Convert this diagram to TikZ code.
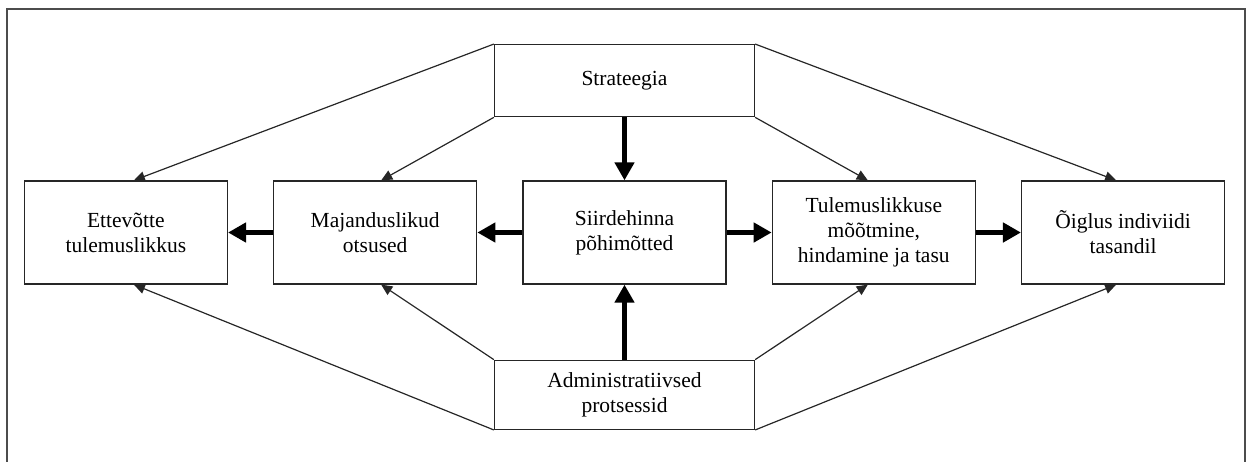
\documentclass[tikz,border=0pt]{standalone}
\usepackage{fontspec}
\setmainfont{Liberation Serif}
\usetikzlibrary{arrows.meta,positioning}

\begin{document}
\begin{tikzpicture}[x=1pt,y=-1pt,
       black!85, text=black, line width=1.3pt,
       node distance=63pt and 45pt,
       every node/.style={font=\fontsize{21.5}{25}\selectfont},
       box/.style={draw, align=center, minimum width=203pt, minimum height=103pt, inner sep=2pt},
       wide/.style={box, minimum width=260pt, minimum height=#1},
       thin/.style={-{Triangle[length=11pt,width=10pt]}, line width=1.2pt},
       fat/.style={-{Triangle[length=18pt,width=19pt]}, line width=5pt, black}]

	%% Frame (open at the bottom)
	\useasboundingbox (0,0) rectangle (1252,461);
	\draw[line width=1.5pt, black!70] (7,480) -- (7,9) -- (1245,9) -- (1245,480);

	%% Middle row, placed from the centre box
	\node[box] (sird) at (624.5,232.5) {Siirdehinna\\põhimõtted};
	\node[box, left=of sird] (maj) {Majanduslikud\\otsused};
	\node[box, left=of maj] (ette) {Ettevõtte\\tulemuslikkus};
	\node[box, right=of sird] (tul) {Tulemuslikkuse\\mõõtmine,\\hindamine ja tasu};
	\node[box, right=of tul] (oig) {Õiglus indiviidi\\tasandil};

	%% Top and bottom boxes
	\node[wide=72pt, above=63pt of sird] (strat) {Strateegia};
	\node[wide=69pt, below=75pt of sird] (admin) {Administratiivsed\\protsessid};

	%% Main flow
	\draw[fat] (strat) -- (sird);
	\draw[fat] (admin) -- (sird);
	\draw[fat] (sird) -- (maj);
	\draw[fat] (maj) -- (ette);
	\draw[fat] (sird) -- (tul);
	\draw[fat] (tul) -- (oig);

	%% Side influences
	\draw[thin] (strat.north west) -- ([xshift=8pt]ette.north);
	\draw[thin] (strat.south west) -- ([xshift=6pt]maj.north);
	\draw[thin] (strat.south east) -- ([xshift=-6pt]tul.north);
	\draw[thin] (strat.north east) -- ([xshift=-7pt]oig.north);
	\draw[thin] (admin.south west) -- ([xshift=8pt]ette.south);
	\draw[thin] (admin.north west) -- ([xshift=6pt]maj.south);
	\draw[thin] (admin.north east) -- ([xshift=-6pt]tul.south);
	\draw[thin] (admin.south east) -- ([xshift=-7pt]oig.south);
\end{tikzpicture}
\end{document}
